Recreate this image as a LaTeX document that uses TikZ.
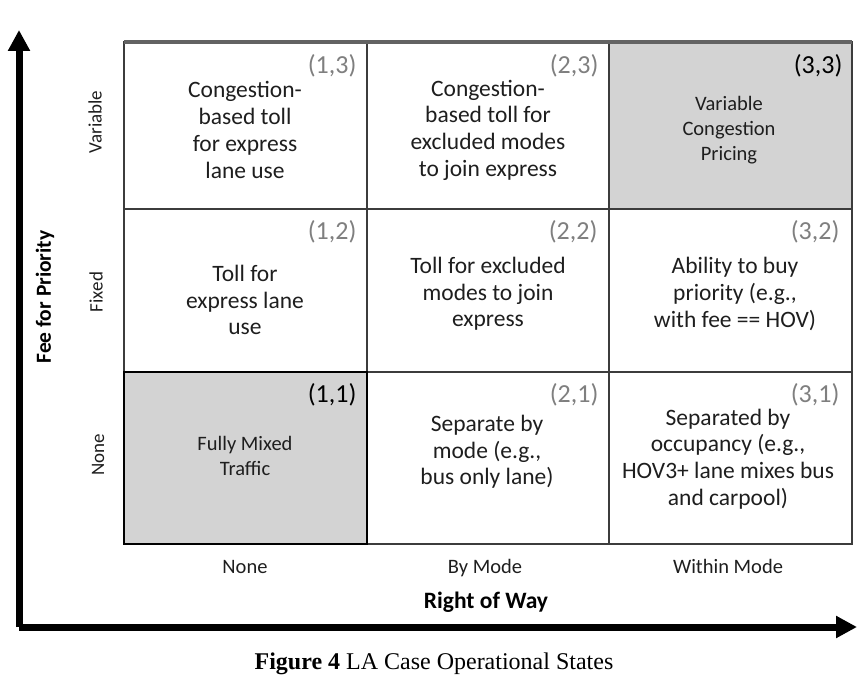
\documentclass[tikz,border=0pt]{standalone}
\usepackage{fontspec}
\setmainfont{Carlito}
\newfontfamily\capfont{Liberation Serif}
\usepackage{tikz}
\usetikzlibrary{arrows.meta}
\definecolor{gridline}{HTML}{3C3C3C}
\definecolor{cellgray}{HTML}{D3D3D3}
\definecolor{numgray}{HTML}{7F7F7F}
\definecolor{ink}{HTML}{1E1E1E}
\tikzset{cell/.style = {align=center, text=ink, font=\fontsize{23.5}{26.7}\selectfont},
         cellsmall/.style = {align=center, text=ink, font=\fontsize{20.5}{25.3}\selectfont},
         num/.style = {anchor=east, text=numgray, font=\fontsize{26}{28}\selectfont},
         numdark/.style = {num, text=black},
         rowlab/.style = {rotate=90, text=ink, font=\fontsize{19}{21}\selectfont},
         collab/.style = {anchor=base, text=ink, font=\fontsize{20.5}{23}\selectfont},
         axis/.style = {line width=7pt, -{Triangle[width=21pt,length=21pt]}}}

\begin{document}
\begin{tikzpicture}[x=1pt, y=-1pt]
    \useasboundingbox (0,0) rectangle (867,677);

    % shaded states
    \fill [cellgray] (124,372) rectangle (367,544);
    \fill [cellgray] (609,42)  rectangle (852,209);

    % grid
    \draw [gridline, line width=1.4pt] (124,42) rectangle (852,544);
    \foreach \x in {367, 609}
        \draw [gridline, line width=1.4pt] (\x,42) -- (\x,544);
    \foreach \y in {209, 372}
        \draw [gridline, line width=1.4pt] (124,\y) -- (852,\y);
    \draw [gridline!80, line width=3.5pt] (124,42) -- (852,42);
    \draw [black, line width=1.6pt] (124,372) rectangle (367,544);

    % axes
    \coordinate (o)    at (19,627);
    \coordinate (ytip) at (19,30);
    \coordinate (xtip) at (857,627);
    \draw [axis] (o) -- (ytip);
    \draw [axis] (o) -- (xtip);

    % state numbers
    \node [num]     (n13) at (360,66)  {(1,3)};
    \node [num]     (n23) at (602,66)  {(2,3)};
    \node [numdark] (n33) at (846,66)  {(3,3)};
    \node [num]     (n12) at (360,232) {(1,2)};
    \node [num]     (n22) at (601,232) {(2,2)};
    \node [num]     (n32) at (843,232) {(3,2)};
    \node [numdark] (n11) at (360,395) {(1,1)};
    \node [num]     (n21) at (602,395) {(2,1)};
    \node [num]     (n31) at (843,395) {(3,1)};

    % state texts
    \node [cell]      (s13) at (245,130) {Congestion-\\based toll\\for express\\lane use};
    \node [cell]      (s23) at (488,130) {Congestion-\\based toll for\\excluded modes\\to join express};
    \node [cellsmall] (s33) at (729,130) {Variable\\Congestion\\Pricing};
    \node [cell]      (s12) at (245,300) {Toll for\\express lane\\use};
    \node [cell]      (s22) at (488,294) {Toll for excluded\\modes to join\\express};
    \node [cell]      (s32) at (735,294) {Ability to buy\\priority (e.g.,\\with fee == HOV)};
    \node [cellsmall] (s11) at (245,456) {Fully Mixed\\Traffic};
    \node [cell]      (s21) at (487,452) {Separate by\\mode (e.g.,\\bus only lane)};
    \node [cell]      (s31) at (728,459) {Separated by\\occupancy (e.g.,\\HOV3+ lane mixes bus\\and carpool)};

    % axis labels
    \node [rowlab] (variable) at (95,122) {Variable};
    \node [rowlab] (fixed)    at (96,292) {Fixed};
    \node [rowlab] (none)     at (98,455) {None};
    \node [rotate=90, font=\bfseries\fontsize{21.5}{24}\selectfont] (fee) at (45,297) {Fee for Priority};

    \node [collab] (rnone)   at (245,573) {None};
    \node [collab] (rmode)   at (485,573) {By Mode};
    \node [collab] (rwithin) at (728,573) {Within Mode};
    \node [anchor=base, font=\bfseries\fontsize{23.5}{26}\selectfont] (row) at (486,608) {Right of Way};

    \node [anchor=base, font=\capfont\fontsize{24}{27}\selectfont] (caption) at (434,669)
        {\textbf{Figure 4} LA Case Operational States};
\end{tikzpicture}
\end{document}
